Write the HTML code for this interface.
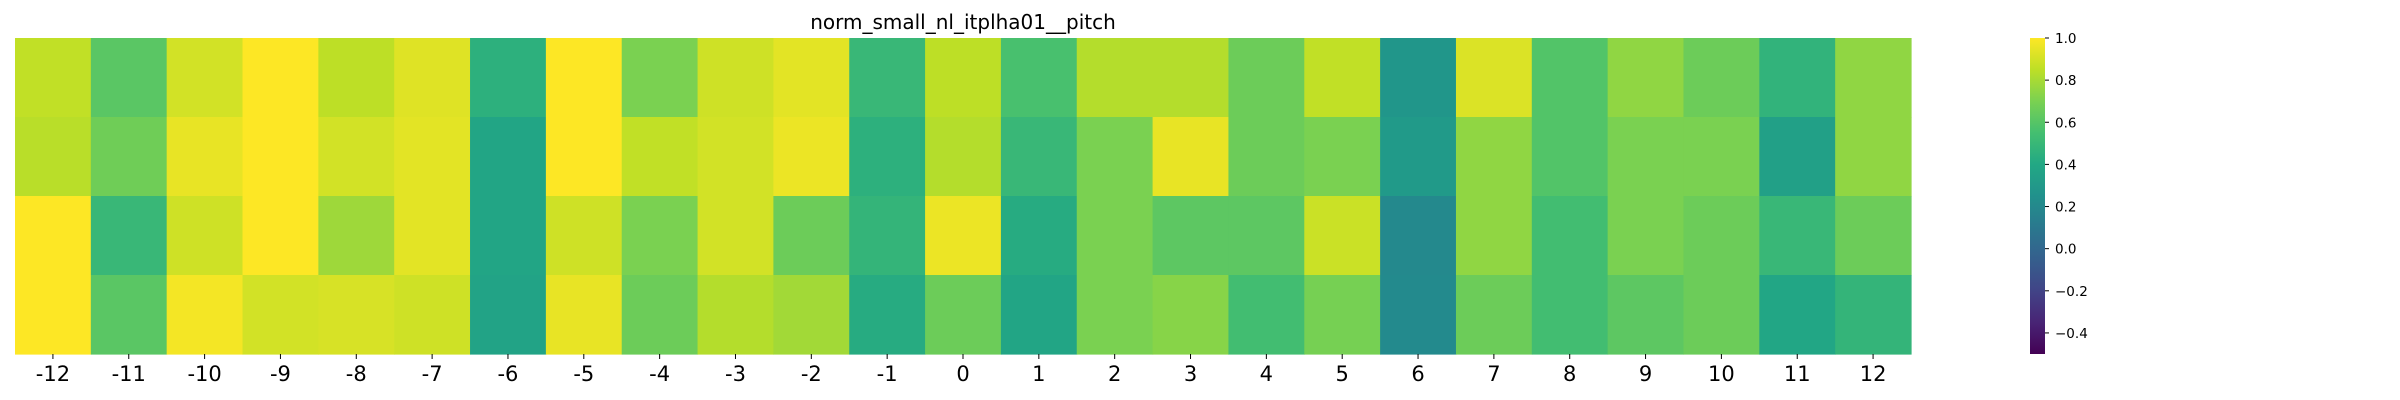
<!DOCTYPE html>
<html><head><meta charset="utf-8"><style>
body{margin:0;background:#fff;width:2400px;height:400px;overflow:hidden}
svg{display:block;font-family:"DejaVu Sans","Liberation Sans",sans-serif}
</style></head><body>
<svg id="chart" width="2400" height="400" viewBox="0 0 2400 400"></svg>
<script>
const categories=['-12','-11','-10','-9','-8','-7','-6','-5','-4','-3','-2','-1','0','1','2','3','4','5','6','7','8','9','10','11','12'];
const row0=[0.86,0.61,0.90,1.00,0.85,0.93,0.45,1.00,0.70,0.89,0.94,0.50,0.85,0.56,0.83,0.83,0.66,0.86,0.28,0.92,0.59,0.75,0.66,0.47,0.75];
const row1=[0.84,0.67,0.95,1.00,0.90,0.94,0.38,1.00,0.86,0.90,0.96,0.45,0.83,0.50,0.70,0.95,0.66,0.70,0.31,0.75,0.59,0.70,0.70,0.35,0.75];
const row2=[1.00,0.50,0.89,1.00,0.78,0.94,0.38,0.89,0.70,0.90,0.66,0.48,0.96,0.42,0.70,0.62,0.62,0.88,0.20,0.75,0.54,0.70,0.66,0.50,0.66];
const row3=[1.00,0.61,0.98,0.90,0.91,0.89,0.37,0.95,0.66,0.83,0.79,0.42,0.66,0.38,0.70,0.73,0.54,0.69,0.21,0.66,0.54,0.62,0.66,0.39,0.48];
const cbTicks=[1.0,0.8,0.6,0.4,0.2,0.0,-0.2,-0.4];
const cbTickLabels=['1.0','0.8','0.6','0.4','0.2','0.0','\u22120.2','\u22120.4'];
const vmin=-0.5,vmax=1.0;
const rows=[row0,row1,row2,row3];
const stops=['#440154','#482475','#414487','#355f8d','#2a788e','#21918c','#22a884','#44bf70','#7ad151','#bddf26','#fde725'];
function hex(c){return [1,3,5].map(i=>parseInt(c.substr(i,2),16));}
function viridis(t){t=Math.max(0,Math.min(1,t));const p=t*10,i=Math.min(9,Math.floor(p)),f=p-i;const a=hex(stops[i]),b=hex(stops[i+1]);return 'rgb('+a.map((v,k)=>Math.round(v+(b[k]-v)*f)).join(',')+')';}
const L=15,R=1911,T=38,B=354;
const cw=(R-L)/categories.length,rh=(B-T)/rows.length;
const xs=i=>L+i*cw, ys=j=>T+j*rh;
const cbX=2030,cbW=15;
const cy=v=>B-(v-vmin)/(vmax-vmin)*(B-T);
const svg=document.getElementById('chart');const NS='http://www.w3.org/2000/svg';
function mk(tag,attrs,parent){const e=document.createElementNS(NS,tag);for(const k in attrs)e.setAttribute(k,attrs[k]);(parent||svg).appendChild(e);return e;}
const t=mk('text',{x:(L+R)/2,y:29,'text-anchor':'middle','font-size':'20',fill:'#000'});


t.textContent='norm_small_nl_itplha01__pitch';
const g=mk('g',{});


rows.forEach((r,j)=>r.forEach((v,i)=>{
 const c=mk('rect',{x:xs(i),y:ys(j),width:cw+0.6,height:rh+0.6,fill:viridis((v-vmin)/(vmax-vmin))},g);
 
 
}));
categories.forEach((c,i)=>{
 const x=xs(i)+cw/2;
 const tk=mk('line',{x1:x,x2:x,y1:B,y2:B+5,stroke:'#000','stroke-width':1});
 
 
 const lb=mk('text',{x:x,y:381,'text-anchor':'middle','font-size':'21',fill:'#000'});
 
 
 lb.textContent=c;
});
const defs=mk('defs',{});
const grad=mk('linearGradient',{id:'cbg',x1:0,y1:1,x2:0,y2:0},defs);
for(let k=0;k<=20;k++)mk('stop',{offset:k/20,'stop-color':viridis(k/20)},grad);
const cb=mk('rect',{x:cbX,y:T,width:cbW,height:B-T,fill:'url(#cbg)'});


cbTicks.forEach((v,k)=>{
 const y=cy(v);
 const tk=mk('line',{x1:cbX+cbW,x2:cbX+cbW+4,y1:y,y2:y,stroke:'#000','stroke-width':1});
 
 
 const lb=mk('text',{x:cbX+cbW+10,y:y+5,'font-size':'13.5',fill:'#000'});
 
 
 lb.textContent=cbTickLabels[k];
});
</script>
</body></html>
